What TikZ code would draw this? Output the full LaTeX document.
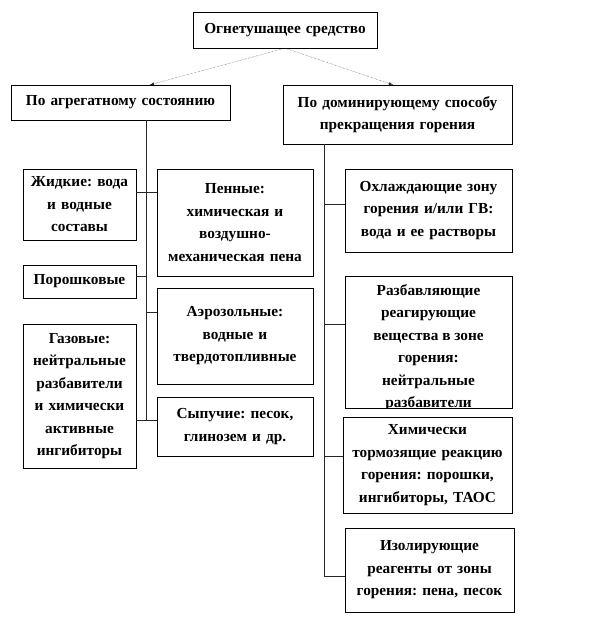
\documentclass[tikz,border=0pt]{standalone}
\usepackage{fontspec}
\setmainfont{Liberation Serif}
\usetikzlibrary{shadows}
\frenchspacing
\begin{document}
\begin{tikzpicture}[x=1pt,y=-1pt,
  box/.style={draw,thin,fill=white,inner sep=0pt,align=center,
    font=\bfseries\fontsize{15.3}{22.5}\selectfont,
    drop shadow={shadow xshift=1.2pt,shadow yshift=-1.2pt,fill=gray!70}},
  ln/.style={draw=black!85,thin},
  arr/.style={draw=black!85,thin,densely dotted,-{latex}}]
\useasboundingbox (0,0) rectangle (600,624);
\newcommand\bx[6]{\node[box,minimum width=#4-#2,minimum height=#5-#3,text width=#4-#2] (#1) at ({(#2+#4)/2},{(#3+#5)/2}) {#6};}
\bx{top}{193}{12}{377}{48}{Огнетушащее средство}
\bx{agg}{11}{85}{230}{120}{По агрегатному состоянию}
\bx{dom}{283}{85}{512}{144}{По доминирующему способу\\прекращения горения}
\bx{zh}{23}{169}{136}{240}{Жидкие: вода\\и водные\\составы}
\bx{pe}{157}{169}{313}{276}{Пенные:\\химическая и\\воздушно-\\механическая пена}
\bx{po}{23}{265}{136}{298}{Порошковые}
\bx{ae}{157}{288}{313}{384}{Аэрозольные:\\водные и\\твердотопливные\\[22pt]}
\bx{ga}{23}{324}{136}{468}{Газовые:\\нейтральные\\разбавители\\и химически\\активные\\ингибиторы}
\bx{sy}{157}{397}{313}{456}{Сыпучие: песок,\\глинозем и др.}
\bx{oh}{345}{169}{512}{252}{Охлаждающие зону\\горения и/или ГВ:\\вода и ее растворы}
\node[box,minimum width=167,minimum height=132] (ra) at (428.5,342) {};
\begin{scope}
\clip (345.5,276.5) rectangle (511.5,407);
\node[align=center,font=\bfseries\fontsize{15.3}{22.5}\selectfont,anchor=north] at (428.5,281) {Разбавляющие\\реагирующие\\вещества в зоне\\горения:\\нейтральные\\разбавители};
\end{scope}
\bx{hi}{343}{417}{512}{513}{Химически\\тормозящие реакцию\\горения: порошки,\\ингибиторы, ТАОС}
\bx{iz}{345}{528}{514}{612}{Изолирующие\\реагенты от зоны\\горения: пена, песок}
\draw[arr] (top.south) -- (agg.north -| 150,0);
\draw[arr] (top.south) -- (dom.north -| 393,0);
\coordinate (lt) at (146,120);
\coordinate (lb) at (146,420);
\draw[ln] (lt) -- (lb);
\draw[ln] (zh.east |- 0,192) -- (pe.west |- 0,192);
\draw[ln] (po.east |- 0,276) -- (146,276);
\draw[ln] (146,312) -- (ae.west |- 0,312);
\draw[ln] (ga.east |- lb) -- (sy.west |- lb);
\coordinate (rt) at (324,144);
\coordinate (rb) at (324,576);
\draw[ln] (rt) -- (rb);
\draw[ln] (324,204) -- (oh.west |- 0,204);
\draw[ln] (324,324) -- (ra.west |- 0,324);
\draw[ln] (324,456) -- (hi.west |- 0,456);
\draw[ln] (rb) -- (iz.west |- rb);
\end{tikzpicture}
\end{document}
